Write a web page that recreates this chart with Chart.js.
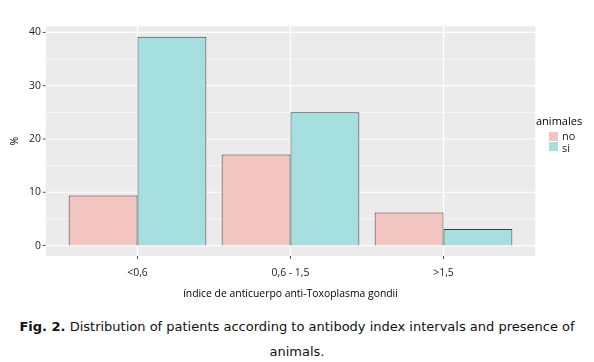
<!DOCTYPE html>
<html><head><meta charset="utf-8">
<script src="https://cdn.jsdelivr.net/npm/chart.js@4"></script>
<style>
html,body{margin:0;padding:0;background:#fff;}
#wrap{position:relative;width:594px;height:362px;overflow:hidden;}
#c{position:absolute;left:0;top:0;}
#cap{position:absolute;left:0;top:314px;width:594px;text-align:center;font-family:"DejaVu Sans",Verdana,sans-serif;font-size:13px;line-height:25px;color:#111;white-space:nowrap;}
</style></head><body>
<div id="wrap"><canvas id="c" width="594" height="300"></canvas>
<div id="cap"><b>Fig. 2.</b> Distribution of patients according to antibody index intervals and presence of<br>animals.</div></div>
<script>
const categories = ['<0,6', '0,6 - 1,5', '>1,5'];
const seriesNames = ['no', 'si'];
const noValues = [9.4, 17.1, 6.2];
const siValues = [39.2, 25.0, 3.1];
const yTicks = [0, 10, 20, 30, 40];
const yMinorTicks = [5, 15, 25, 35];
const legendTitle = 'animales';
const xTitle = 'índice de anticuerpo anti-Toxoplasma gondii';
const yTitle = '%';

const FONT = '"Open Sans", sans-serif';
const FS = 10.4;
const maxVal = Math.max(...noValues, ...siValues);
const expand = maxVal * 0.05;

const panelPlugin = {
  id: 'panel',
  beforeDraw(chart) {
    const ctx = chart.ctx, xs = chart.scales.x, ys = chart.scales.y, a = chart.chartArea;
    const sp = xs.getPixelForValue(1) - xs.getPixelForValue(0);
    const L = xs.getPixelForValue(0) - 0.6 * sp;
    const R = xs.getPixelForValue(categories.length - 1) + 0.6 * sp;
    ctx.save();
    ctx.fillStyle = '#EBEBEB';
    ctx.fillRect(L, a.top, R - L, a.bottom - a.top);
    ctx.strokeStyle = '#FFFFFF';
    ctx.lineWidth = 0.6;
    yMinorTicks.forEach(v => {
      const y = ys.getPixelForValue(v);
      ctx.beginPath(); ctx.moveTo(L, y); ctx.lineTo(R, y); ctx.stroke();
    });
    ctx.lineWidth = 1.2;
    yTicks.forEach(v => {
      const y = ys.getPixelForValue(v);
      ctx.beginPath(); ctx.moveTo(L, y); ctx.lineTo(R, y); ctx.stroke();
    });
    categories.forEach((c, i) => {
      const x = xs.getPixelForValue(i);
      ctx.beginPath(); ctx.moveTo(x, a.top); ctx.lineTo(x, a.bottom); ctx.stroke();
    });
    ctx.strokeStyle = '#555';
    ctx.lineWidth = 1;
    yTicks.forEach(v => {
      const y = ys.getPixelForValue(v);
      ctx.beginPath(); ctx.moveTo(L - 3, y); ctx.lineTo(L, y); ctx.stroke();
    });
    categories.forEach((c, i) => {
      const x = xs.getPixelForValue(i);
      ctx.beginPath(); ctx.moveTo(x, a.bottom); ctx.lineTo(x, a.bottom + 3); ctx.stroke();
    });
    ctx.restore();
  },
  afterDraw(chart) {
    const ctx = chart.ctx;
    ctx.save();
    ctx.font = '11px ' + FONT;
    ctx.fillStyle = '#000';
    ctx.textBaseline = 'middle';
    ctx.textAlign = 'left';
    ctx.fillText(legendTitle, 536, 122);
    chart.data.datasets.forEach((ds, i) => {
      const y = 132 + i * 10;
      ctx.fillStyle = ds.backgroundColor;
      ctx.fillRect(549, y, 9, 9);
      ctx.fillStyle = '#222';
      ctx.fillText(ds.label, 562, 137 + i * 12);
    });
    ctx.restore();
  }
};

new Chart(document.getElementById('c'), {
  type: 'bar',
  data: {
    labels: categories,
    datasets: [
      { label: seriesNames[0], data: noValues, backgroundColor: '#F2C5C1', borderColor: '#3C3C3C', borderWidth: 1, categoryPercentage: 0.9, barPercentage: 1.0 },
      { label: seriesNames[1], data: siValues, backgroundColor: '#A6DFDF', borderColor: '#3C3C3C', borderWidth: 1, categoryPercentage: 0.9, barPercentage: 1.0 }
    ]
  },
  options: {
    responsive: false,
    animation: false,
    layout: { padding: { left: 0, right: 74, top: 17, bottom: 0 } },
    plugins: { legend: { display: false }, tooltip: { enabled: false } },
    scales: {
      x: {
        type: 'category',
        offset: true,
        grid: { display: false, drawTicks: false },
        border: { display: false },
        ticks: { color: '#222', font: { family: FONT, size: FS }, padding: 11, maxRotation: 0 },
        title: { display: true, text: xTitle, color: '#000', font: { family: FONT, size: FS }, padding: { top: 0, bottom: 0 } },
        afterFit(s) { s.height = 44; }
      },
      y: {
        min: -expand,
        max: maxVal + expand,
        grid: { display: false, drawTicks: false },
        border: { display: false },
        ticks: { color: '#222', font: { family: FONT, size: FS }, padding: 20 },
        afterBuildTicks(s) { s.ticks = yTicks.map(v => ({ value: v })); },
        title: { display: true, text: yTitle, color: '#000', font: { family: FONT, size: FS }, padding: { top: 9, bottom: 0 } },
        afterFit(s) { s.width = 61; }
      }
    }
  },
  plugins: [panelPlugin]
});
</script>
</body></html>
